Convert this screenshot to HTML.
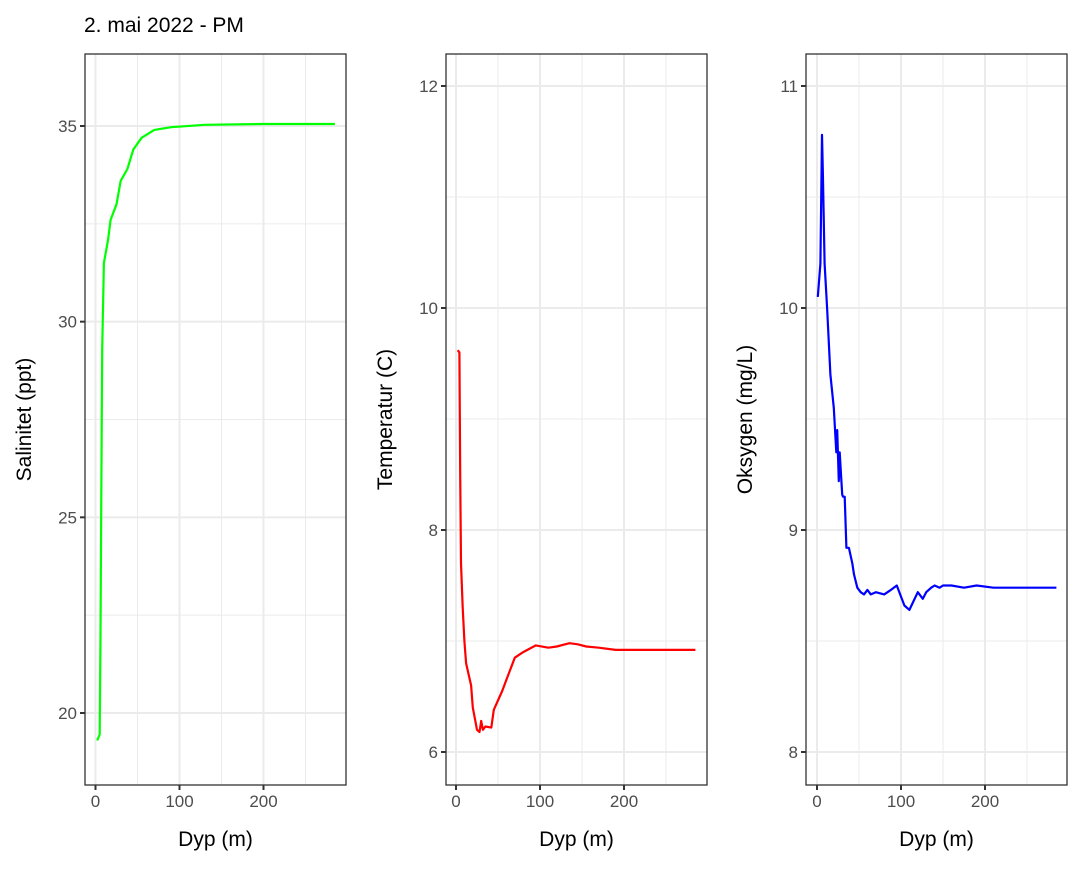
<!DOCTYPE html>
<html><head><meta charset="utf-8"><style>
body{margin:0;background:#fff;font-family:"Liberation Sans",Arial,sans-serif}
svg text{font-family:"Liberation Sans",Arial,sans-serif}
</style></head><body>
<svg id="chart" width="1082" height="866" viewBox="0 0 1082 866" xmlns="http://www.w3.org/2000/svg">
<rect width="1082" height="866" fill="#fff"/>
<text x="84" y="32" font-size="21" fill="#000">2. mai 2022 - PM</text>
</svg>
<script>
const salDepth=[2,5,6,7,8,10,15,18,25,30,38,45,55,70,90,130,200,285];
const salVal=[19.3,19.45,22,26,29.3,31.5,32.1,32.6,33.0,33.6,33.9,34.4,34.7,34.9,34.97,35.03,35.05,35.05];
const tempDepth=[2,4,5,6,8,10,12,18,20,25,28,30,32,35,42,45,55,60,70,80,95,110,120,135,145,155,170,190,285];
const tempVal=[9.62,9.6,8.5,7.7,7.3,7.0,6.8,6.6,6.4,6.2,6.18,6.28,6.2,6.23,6.22,6.38,6.55,6.65,6.85,6.9,6.96,6.94,6.95,6.98,6.97,6.95,6.94,6.92,6.92];
const oxyDepth=[1,4,6,7,9,12,16,20,23,24,26,27,30,31,33,35,38,42,44,48,52,56,60,64,70,80,88,95,100,104,110,115,120,126,130,136,140,146,150,160,175,190,210,230,250,270,285];
const oxyVal=[10.05,10.2,10.78,10.6,10.2,10.0,9.7,9.55,9.35,9.45,9.22,9.35,9.16,9.15,9.15,8.92,8.92,8.85,8.8,8.74,8.72,8.71,8.73,8.71,8.72,8.71,8.73,8.75,8.7,8.66,8.64,8.68,8.72,8.69,8.72,8.74,8.75,8.74,8.75,8.75,8.74,8.75,8.74,8.74,8.74,8.74,8.74];
const xTicks=[0,100,200];
const salTicks=[20,25,30,35];
const tempTicks=[6,8,10,12];
const oxyTicks=[8,9,10,11];
const NS="http://www.w3.org/2000/svg";
const svg=document.getElementById('chart');
function mk(tag,attrs,parent){const e=document.createElementNS(NS,tag);for(const k in attrs)e.setAttribute(k,attrs[k]);(parent||svg).appendChild(e);return e;}
const plotTop=54,plotBottom=785;
function panel(left,right,x0px,yMin,yMax,yMinPx,yMaxPx,yTicks,depth,vals,color,label,name){
  const g=mk('g',{});
  
  
  const sx=d=>x0px+d*0.84;
  const sy=v=>yMinPx+(v-yMin)*(yMaxPx-yMinPx)/(yMax-yMin);
  const xMinor=[50,150,250];
  xMinor.forEach(t=>{const l=mk('line',{x1:sx(t),x2:sx(t),y1:plotTop,y2:plotBottom,stroke:'#ebebeb','stroke-width':1},g);
    
    });
  for(let i=0;i<yTicks.length-1;i++){const v=(yTicks[i]+yTicks[i+1])/2;const l=mk('line',{x1:left,x2:right,y1:sy(v),y2:sy(v),stroke:'#ebebeb','stroke-width':1},g);
    
    }
  xTicks.forEach(t=>{const l=mk('line',{x1:sx(t),x2:sx(t),y1:plotTop,y2:plotBottom,stroke:'#ebebeb','stroke-width':2},g);
    
    
    const tk=mk('line',{x1:sx(t),x2:sx(t),y1:plotBottom,y2:plotBottom+5,stroke:'#333','stroke-width':2},g);
    
    
    const tx=mk('text',{x:sx(t),y:plotBottom+22,'font-size':17,fill:'#4d4d4d','text-anchor':'middle'},g);tx.textContent=t;
    
    });
  yTicks.forEach(t=>{const l=mk('line',{x1:left,x2:right,y1:sy(t),y2:sy(t),stroke:'#ebebeb','stroke-width':2},g);
    
    
    const tk=mk('line',{x1:left-5,x2:left,y1:sy(t),y2:sy(t),stroke:'#333','stroke-width':2},g);
    
    
    const tx=mk('text',{x:left-8,y:sy(t)+6,'font-size':17,fill:'#4d4d4d','text-anchor':'end'},g);tx.textContent=t;
    
    });
  const pts=depth.map((d,i)=>sx(d).toFixed(1)+','+sy(vals[i]).toFixed(1)).join(' ');
  const pl=mk('polyline',{points:pts,fill:'none',stroke:color,'stroke-width':2.2,'stroke-linejoin':'round'},g);
  
  
  const b=mk('rect',{x:left,y:plotTop,width:right-left,height:plotBottom-plotTop,fill:'none',stroke:'#333','stroke-width':1.3},g);
  
  
  const xt=mk('text',{x:(left+right)/2,y:846,'font-size':21,fill:'#000','text-anchor':'middle'},g);xt.textContent='Dyp (m)';
  
  
  const cy=(plotTop+plotBottom)/2;
  const yt=mk('text',{x:0,y:0,'font-size':21,fill:'#000','text-anchor':'middle',transform:`translate(${left-54},${cy}) rotate(-90)`},g);yt.textContent=label;
  
  
}
panel(85,346,95.5,20,35,713,126,salTicks,salDepth,salVal,'#00ff00','Salinitet (ppt)','salinity');
panel(446,707,456,6,12,752,86,tempTicks,tempDepth,tempVal,'#ff0000','Temperatur (C)','temperature');
panel(806,1067,817,8,11,752,86,oxyTicks,oxyDepth,oxyVal,'#0000ff','Oksygen (mg/L)','oxygen');
</script>
</body></html>
